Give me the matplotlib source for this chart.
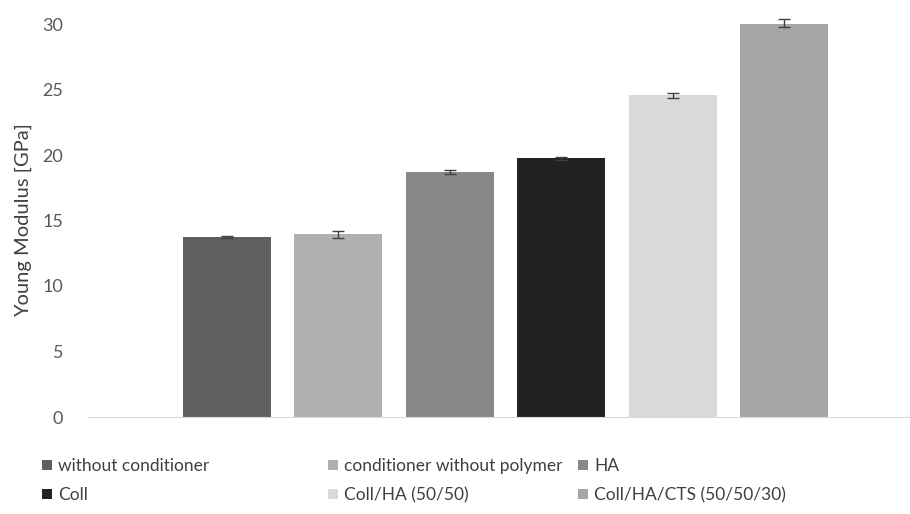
import matplotlib.pyplot as plt
from matplotlib.patches import Patch

plt.rcParams['font.family'] = ['Lato', 'DejaVu Sans']

# data
labels = ['without conditioner', 'conditioner without polymer', 'HA',
          'Coll', 'Coll/HA (50/50)', 'Coll/HA/CTS (50/50/30)']
values = [13.75, 13.95, 18.7, 19.75, 24.55, 30.1]
errors = [0.05, 0.25, 0.15, 0.1, 0.2, 0.3]
colors = ['#5f5f5f', '#b0b0b0', '#888888', '#222222', '#d9d9d9', '#a6a6a6']
yticks = [0, 5, 10, 15, 20, 25, 30]

fig = plt.figure(figsize=(9.1, 5.14), dpi=100)
ax = fig.add_axes([88 / 910, 97 / 514, 822 / 910, 393 / 514])

x = list(range(len(values)))
ax.bar(x, values, width=0.79, color=colors, zorder=2)
eb = ax.errorbar(x, values, yerr=errors, fmt='none', ecolor='#404040',
                 elinewidth=1, capsize=4.5, capthick=1, zorder=3)
for art in eb.lines[1] + eb.lines[2]:
    art.set_clip_on(False)

ax.set_xlim(-1.248, 6.13)
ax.set_ylim(0, 30)
ax.set_yticks(yticks)
ax.set_xticks([])
ax.tick_params(axis='y', length=0, pad=18, labelsize=13, labelcolor='#595959')
for s in ['top', 'right', 'left']:
    ax.spines[s].set_visible(False)
ax.spines['bottom'].set_color('#d9d9d9')

ax.set_ylabel('Young Modulus [GPa]', fontsize=14.5, color='#404040')
ax.yaxis.set_label_coords(-56 / 822, 0.5)

# legend: three fixed columns, two rows each
handles = [Patch(facecolor=c) for c in colors]
col_x = [42, 328, 578]
for i, cx in enumerate(col_x):
    idx = [i, i + 3]
    fig.legend([handles[j] for j in idx], [labels[j] for j in idx],
               loc='upper left', bbox_to_anchor=(cx / 910, 1 - 458 / 514),
               frameon=False, fontsize=12.5, labelcolor='#404040',
               handlelength=0.55, handleheight=0.55, handletextpad=0.4,
               labelspacing=0.75, borderaxespad=0, borderpad=0)

fig.savefig('out.png', dpi=100)
